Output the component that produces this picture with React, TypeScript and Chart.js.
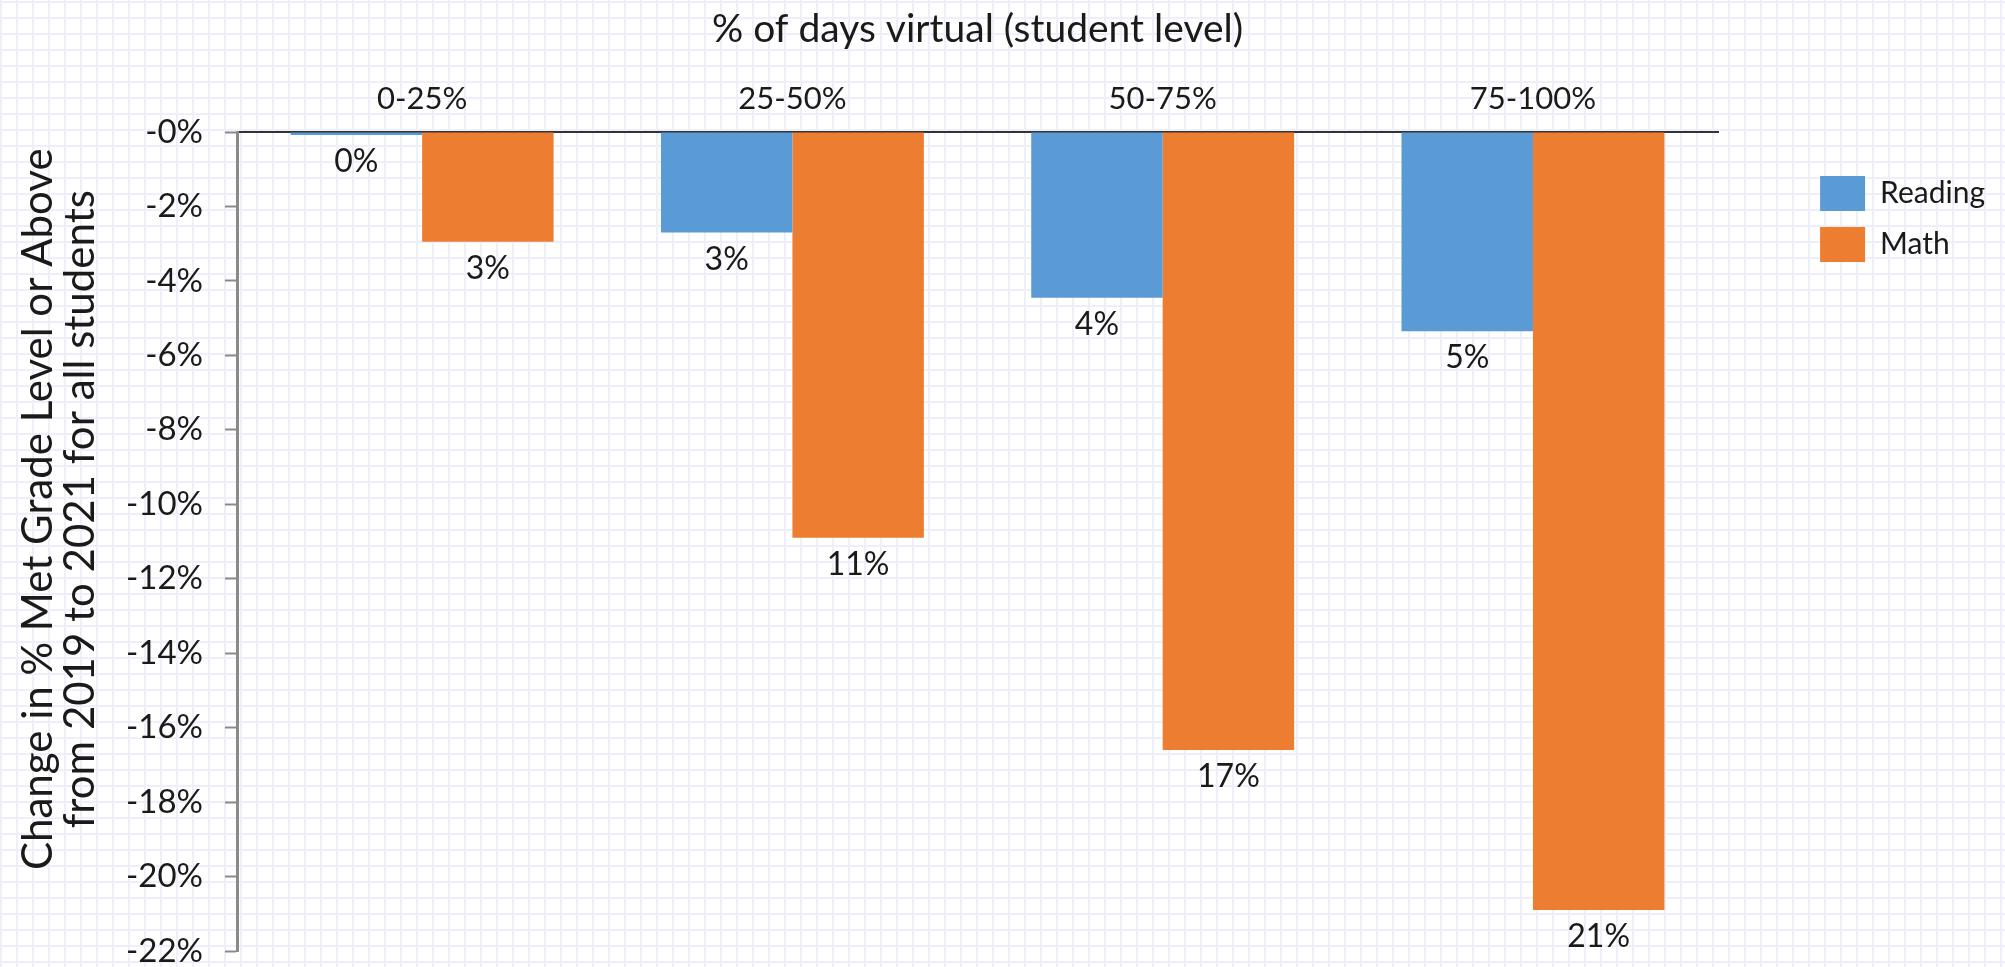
import React, { useEffect, useRef } from "react";
import { Chart, registerables } from "chart.js";

Chart.register(...registerables);

const categories = ["0-25%", "25-50%", "50-75%", "75-100%"];
const readingValues = [-0.08, -2.7, -4.45, -5.35];
const mathValues = [-2.95, -10.9, -16.6, -20.9];
const yTicks = { min: -22, max: 0, step: 2 };
const seriesNames = ["Reading", "Math"];
const xTitle = "% of days virtual (student level)";
const yTitle = ["Change in % Met Grade Level or Above", "from 2019 to 2021 for all students"];
const yTitleLead = "      ";

const FONT = "Lato";
const TEXT = "#1a1a1a";

const valueLabels = {
  id: "valueLabels",
  afterDatasetsDraw(chart: any) {
    const { ctx } = chart;
    ctx.save();
    ctx.font = `32px ${FONT}`;
    ctx.fillStyle = TEXT;
    ctx.textAlign = "center";
    ctx.textBaseline = "middle";
    chart.data.datasets.forEach((ds: any, i: number) => {
      const meta = chart.getDatasetMeta(i);
      meta.data.forEach((bar: any, j: number) => {
        const v = ds.data[j];
        ctx.fillText(Math.round(Math.abs(v)) + "%", bar.x, bar.y + 27);
      });
    });
    ctx.restore();
  },
};

export default function App() {
  const ref = useRef<HTMLCanvasElement>(null);
  useEffect(() => {
    if (!ref.current) return;
    const chart = new Chart(ref.current, {
      type: "bar",
      data: {
        labels: categories,
        datasets: [
          {
            label: seriesNames[0],
            data: readingValues,
            backgroundColor: "#5b9bd5",
            categoryPercentage: 0.71,
            barPercentage: 1.0,
          },
          {
            label: seriesNames[1],
            data: mathValues,
            backgroundColor: "#ed7d31",
            categoryPercentage: 0.71,
            barPercentage: 1.0,
          },
        ],
      },
      options: {
        responsive: false,
        animation: false,
        layout: { padding: { left: 0, top: 0, right: 10, bottom: 0 } },
        scales: {
          x: {
            position: "top",
            grid: { display: false, drawTicks: false },
            border: { display: true, color: "#333333", width: 2 },
            ticks: { font: { family: FONT, size: 31 }, color: TEXT, padding: 14 },
            title: {
              display: true,
              text: xTitle,
              font: { family: FONT, size: 39 },
              color: TEXT,
              padding: { top: 6, bottom: 20 },
            },
            afterFit: (s: any) => {
              s.height = 132;
            },
          },
          y: {
            position: "left",
            min: yTicks.min,
            max: yTicks.max,
            ticks: {
              stepSize: yTicks.step,
              font: { family: FONT, size: 33, lineHeight: 1 },
              color: TEXT,
              padding: 22,
              callback: (v: any) => (v === 0 ? "-0%" : v + "%"),
            },
            grid: {
              drawOnChartArea: false,
              drawTicks: true,
              tickLength: 12,
              tickColor: "#8a8a8a",
              tickWidth: 2,
            },
            border: { display: true, color: "#8a8a8a", width: 3 },
            title: {
              display: true,
              text: yTitle.map((t) => yTitleLead + t),
              font: { family: FONT, size: 42, lineHeight: 1 },
              color: TEXT,
              padding: { top: 17, bottom: 20 },
            },
            afterFit: (s: any) => {
              s.width = 237;
              s.paddingBottom = 16;
            },
          },
          gap: {
            type: "linear",
            position: "right",
            display: true,
            grid: { display: false, drawTicks: false },
            border: { display: false },
            ticks: { display: false },
            afterFit: (s: any) => {
              s.width = 86;
            },
          },
        },
        plugins: {
          legend: {
            position: "right",
            align: "start",
            title: { display: true, text: " ", font: { size: 10 }, padding: { top: 0, bottom: 148 } },
            labels: {
              boxWidth: 45,
              boxHeight: 35,
              padding: 16,
              font: { family: FONT, size: 30 },
              color: TEXT,
            },
          },
          tooltip: { enabled: false },
        },
      },
      plugins: [valueLabels],
    } as any);
    return () => chart.destroy();
  }, []);

  return (
    <div
      style={{
        position: "absolute",
        left: 0,
        top: 0,
        width: 2005,
        height: 967,
        backgroundColor: "#ffffff",
        backgroundImage:
          "linear-gradient(to right, #edf0f8 2px, transparent 2px), linear-gradient(to bottom, #edf0f8 2px, transparent 2px)",
        backgroundSize: "16px 16px",
        backgroundPosition: "0px 1px",
      }}
    >
      <canvas ref={ref} width={2005} height={967} style={{ display: "block" }} />
    </div>
  );
}
